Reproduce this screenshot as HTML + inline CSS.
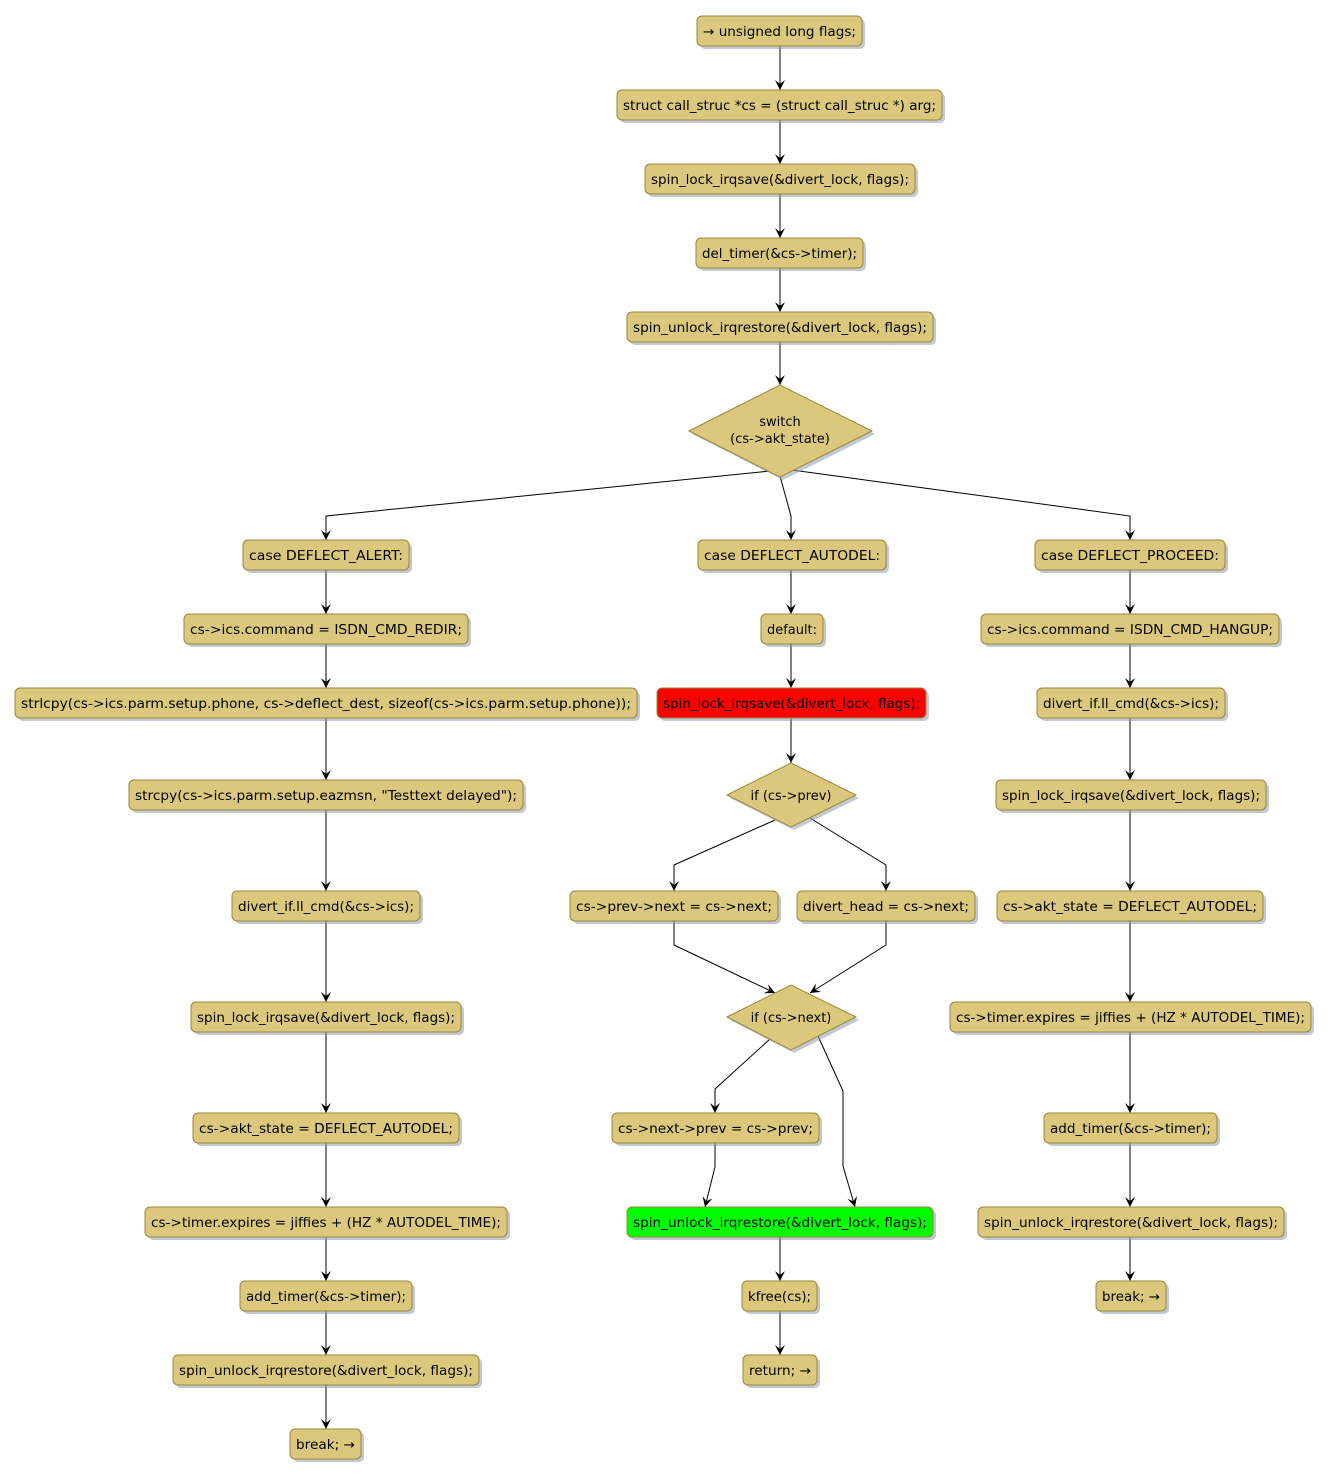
<!DOCTYPE html>
<html><head><meta charset="utf-8"><style>
html,body{margin:0;padding:0;background:#fff}
svg{display:block}
text{font-family:"DejaVu Sans","Liberation Sans",sans-serif;font-size:13px;fill:#000}
.b{fill:#DBC87D;stroke:#9A8638;stroke-width:1}
.s{fill:#8f9cb0;opacity:.55}
.l{fill:none;stroke:#000;stroke-width:1}
</style></head><body>
<svg width="1330" height="1478" viewBox="0 0 1330 1478" xmlns="http://www.w3.org/2000/svg">
<defs>
<marker id="a" markerWidth="10" markerHeight="10" refX="10" refY="5" orient="auto" markerUnits="userSpaceOnUse">
<path d="M0,0 L10,5 L0,10 L4,5 z" fill="#000"/>
</marker>
</defs>

<!-- connectors -->
<g class="l" marker-end="url(#a)">
<path d="M780,46 V90"/>
<path d="M780,120 V164"/>
<path d="M780,194 V238"/>
<path d="M780,268 V312"/>
<path d="M780,342 V385"/>
<path d="M770,471 L326,516 V540"/>
<path d="M780,476 L791,516 V540"/>
<path d="M792,470 L1130,516 V540"/>
<!-- left -->
<path d="M326,570 V614"/>
<path d="M326,644 V688"/>
<path d="M326,718 V780"/>
<path d="M326,810 V891"/>
<path d="M326,921 V1002"/>
<path d="M326,1032 V1113"/>
<path d="M326,1143 V1207"/>
<path d="M326,1237 V1281"/>
<path d="M326,1311 V1355"/>
<path d="M326,1385 V1429"/>
<!-- middle -->
<path d="M791,570 V614"/>
<path d="M791,644 V688"/>
<path d="M791,718 V763"/>
<path d="M775,820 L674,865 V891"/>
<path d="M810,818 L886,865 V891"/>
<path d="M674,921 V945 L775,993"/>
<path d="M886,921 V945 L810,993"/>
<path d="M770,1039 L715,1089 V1113"/>
<path d="M818,1036 L843,1091 V1166 L855,1207"/>
<path d="M715,1143 V1167 L705,1207"/>
<path d="M780,1237 V1281"/>
<path d="M780,1311 V1355"/>
<!-- right -->
<path d="M1130,570 V614"/>
<path d="M1130,644 V688"/>
<path d="M1130,718 V780"/>
<path d="M1130,810 V891"/>
<path d="M1130,921 V1002"/>
<path d="M1130,1032 V1113"/>
<path d="M1130,1143 V1207"/>
<path d="M1130,1237 V1281"/>
</g>

<!-- shadows -->
<g class="s">
<rect x="700" y="19" width="165" height="30" rx="5"/>
<rect x="620" y="93" width="325" height="30" rx="5"/>
<rect x="648" y="167" width="270" height="30" rx="5"/>
<rect x="699" y="241" width="167" height="30" rx="5"/>
<rect x="630" y="315" width="306" height="30" rx="5"/>
<polygon points="692,434 783,388 875,434 783,480"/>
<rect x="246" y="543" width="166" height="30" rx="5"/>
<rect x="187" y="617" width="284" height="30" rx="5"/>
<rect x="18" y="691" width="622" height="30" rx="5"/>
<rect x="132" y="783" width="394" height="30" rx="5"/>
<rect x="235" y="894" width="188" height="30" rx="5"/>
<rect x="194" y="1005" width="270" height="30" rx="5"/>
<rect x="196" y="1116" width="266" height="30" rx="5"/>
<rect x="148" y="1210" width="362" height="30" rx="5"/>
<rect x="243" y="1284" width="172" height="30" rx="5"/>
<rect x="176" y="1358" width="306" height="30" rx="5"/>
<rect x="293" y="1432" width="71" height="30" rx="5"/>
<rect x="701" y="543" width="188" height="30" rx="5"/>
<rect x="764" y="617" width="62" height="30" rx="5"/>
<rect x="660" y="691" width="269" height="30" rx="5"/>
<polygon points="730,798 794,766 859,798 794,830"/>
<rect x="573" y="894" width="208" height="30" rx="5"/>
<rect x="800" y="894" width="178" height="30" rx="5"/>
<polygon points="730,1020 794,988 859,1020 794,1053"/>
<rect x="615" y="1116" width="207" height="30" rx="5"/>
<rect x="630" y="1210" width="306" height="30" rx="5"/>
<rect x="745" y="1284" width="75" height="30" rx="5"/>
<rect x="746" y="1358" width="74" height="30" rx="5"/>
<rect x="1038" y="543" width="190" height="30" rx="5"/>
<rect x="984" y="617" width="298" height="30" rx="5"/>
<rect x="1040" y="691" width="188" height="30" rx="5"/>
<rect x="999" y="783" width="270" height="30" rx="5"/>
<rect x="1000" y="894" width="266" height="30" rx="5"/>
<rect x="953" y="1005" width="361" height="30" rx="5"/>
<rect x="1047" y="1116" width="173" height="30" rx="5"/>
<rect x="981" y="1210" width="306" height="30" rx="5"/>
<rect x="1099" y="1284" width="70" height="30" rx="5"/>
</g>

<!-- shapes -->
<g class="b">
<rect x="697" y="16" width="165" height="30" rx="5"/>
<rect x="617" y="90" width="325" height="30" rx="5"/>
<rect x="645" y="164" width="270" height="30" rx="5"/>
<rect x="696" y="238" width="167" height="30" rx="5"/>
<rect x="627" y="312" width="306" height="30" rx="5"/>
<polygon points="689,431 780,385 872,431 780,477"/>
<rect x="243" y="540" width="166" height="30" rx="5"/>
<rect x="184" y="614" width="284" height="30" rx="5"/>
<rect x="15" y="688" width="622" height="30" rx="5"/>
<rect x="129" y="780" width="394" height="30" rx="5"/>
<rect x="232" y="891" width="188" height="30" rx="5"/>
<rect x="191" y="1002" width="270" height="30" rx="5"/>
<rect x="193" y="1113" width="266" height="30" rx="5"/>
<rect x="145" y="1207" width="362" height="30" rx="5"/>
<rect x="240" y="1281" width="172" height="30" rx="5"/>
<rect x="173" y="1355" width="306" height="30" rx="5"/>
<rect x="290" y="1429" width="71" height="30" rx="5"/>
<rect x="698" y="540" width="188" height="30" rx="5"/>
<rect x="761" y="614" width="62" height="30" rx="5"/>
<rect x="657" y="688" width="269" height="30" rx="5" style="fill:#FF0000"/>
<polygon points="727,795 791,763 856,795 791,827"/>
<rect x="570" y="891" width="208" height="30" rx="5"/>
<rect x="797" y="891" width="178" height="30" rx="5"/>
<polygon points="727,1017 791,985 856,1017 791,1050"/>
<rect x="612" y="1113" width="207" height="30" rx="5"/>
<rect x="627" y="1207" width="306" height="30" rx="5" style="fill:#00FF00"/>
<rect x="742" y="1281" width="75" height="30" rx="5"/>
<rect x="743" y="1355" width="74" height="30" rx="5"/>
<rect x="1035" y="540" width="190" height="30" rx="5"/>
<rect x="981" y="614" width="298" height="30" rx="5"/>
<rect x="1037" y="688" width="188" height="30" rx="5"/>
<rect x="996" y="780" width="270" height="30" rx="5"/>
<rect x="997" y="891" width="266" height="30" rx="5"/>
<rect x="950" y="1002" width="361" height="30" rx="5"/>
<rect x="1044" y="1113" width="173" height="30" rx="5"/>
<rect x="978" y="1207" width="306" height="30" rx="5"/>
<rect x="1096" y="1281" width="70" height="30" rx="5"/>
</g>

<!-- labels -->
<g text-anchor="middle" lengthAdjust="spacingAndGlyphs">
<text x="779.5" y="36" textLength="153" lengthAdjust="spacingAndGlyphs">→ unsigned long flags;</text>
<text x="779.5" y="110" textLength="313" lengthAdjust="spacingAndGlyphs">struct call_struc *cs = (struct call_struc *) arg;</text>
<text x="780" y="184" textLength="258" lengthAdjust="spacingAndGlyphs">spin_lock_irqsave(&amp;divert_lock, flags);</text>
<text x="779.5" y="258" textLength="155" lengthAdjust="spacingAndGlyphs">del_timer(&amp;cs-&gt;timer);</text>
<text x="780" y="332" textLength="294" lengthAdjust="spacingAndGlyphs">spin_unlock_irqrestore(&amp;divert_lock, flags);</text>
<text x="780" y="426">switch</text>
<text x="780" y="443">(cs-&gt;akt_state)</text>

<text x="326" y="560" textLength="154" lengthAdjust="spacingAndGlyphs">case DEFLECT_ALERT:</text>
<text x="326" y="634" textLength="272" lengthAdjust="spacingAndGlyphs">cs-&gt;ics.command = ISDN_CMD_REDIR;</text>
<text x="326" y="708" textLength="610" lengthAdjust="spacingAndGlyphs">strlcpy(cs-&gt;ics.parm.setup.phone, cs-&gt;deflect_dest, sizeof(cs-&gt;ics.parm.setup.phone));</text>
<text x="326" y="800" textLength="382" lengthAdjust="spacingAndGlyphs">strcpy(cs-&gt;ics.parm.setup.eazmsn, "Testtext delayed");</text>
<text x="326" y="911" textLength="176" lengthAdjust="spacingAndGlyphs">divert_if.ll_cmd(&amp;cs-&gt;ics);</text>
<text x="326" y="1022" textLength="258" lengthAdjust="spacingAndGlyphs">spin_lock_irqsave(&amp;divert_lock, flags);</text>
<text x="326" y="1133" textLength="254" lengthAdjust="spacingAndGlyphs">cs-&gt;akt_state = DEFLECT_AUTODEL;</text>
<text x="326" y="1227" textLength="350" lengthAdjust="spacingAndGlyphs">cs-&gt;timer.expires = jiffies + (HZ * AUTODEL_TIME);</text>
<text x="326" y="1301" textLength="160" lengthAdjust="spacingAndGlyphs">add_timer(&amp;cs-&gt;timer);</text>
<text x="326" y="1375" textLength="294" lengthAdjust="spacingAndGlyphs">spin_unlock_irqrestore(&amp;divert_lock, flags);</text>
<text x="325.5" y="1449" textLength="59" lengthAdjust="spacingAndGlyphs">break; →</text>

<text x="792" y="560" textLength="176" lengthAdjust="spacingAndGlyphs">case DEFLECT_AUTODEL:</text>
<text x="792" y="634" textLength="50" lengthAdjust="spacingAndGlyphs">default:</text>
<text x="791.5" y="708" textLength="257" lengthAdjust="spacingAndGlyphs">spin_lock_irqsave(&amp;divert_lock, flags);</text>
<text x="791" y="800">if (cs-&gt;prev)</text>
<text x="674" y="911" textLength="196" lengthAdjust="spacingAndGlyphs">cs-&gt;prev-&gt;next = cs-&gt;next;</text>
<text x="886" y="911" textLength="166" lengthAdjust="spacingAndGlyphs">divert_head = cs-&gt;next;</text>
<text x="791" y="1022">if (cs-&gt;next)</text>
<text x="715.5" y="1133" textLength="195" lengthAdjust="spacingAndGlyphs">cs-&gt;next-&gt;prev = cs-&gt;prev;</text>
<text x="780" y="1227" textLength="294" lengthAdjust="spacingAndGlyphs">spin_unlock_irqrestore(&amp;divert_lock, flags);</text>
<text x="779.5" y="1301" textLength="63" lengthAdjust="spacingAndGlyphs">kfree(cs);</text>
<text x="780" y="1375" textLength="62" lengthAdjust="spacingAndGlyphs">return; →</text>

<text x="1130" y="560" textLength="178" lengthAdjust="spacingAndGlyphs">case DEFLECT_PROCEED:</text>
<text x="1130" y="634" textLength="286" lengthAdjust="spacingAndGlyphs">cs-&gt;ics.command = ISDN_CMD_HANGUP;</text>
<text x="1131" y="708" textLength="176" lengthAdjust="spacingAndGlyphs">divert_if.ll_cmd(&amp;cs-&gt;ics);</text>
<text x="1131" y="800" textLength="258" lengthAdjust="spacingAndGlyphs">spin_lock_irqsave(&amp;divert_lock, flags);</text>
<text x="1130" y="911" textLength="254" lengthAdjust="spacingAndGlyphs">cs-&gt;akt_state = DEFLECT_AUTODEL;</text>
<text x="1130.5" y="1022" textLength="349" lengthAdjust="spacingAndGlyphs">cs-&gt;timer.expires = jiffies + (HZ * AUTODEL_TIME);</text>
<text x="1130.5" y="1133" textLength="161" lengthAdjust="spacingAndGlyphs">add_timer(&amp;cs-&gt;timer);</text>
<text x="1131" y="1227" textLength="294" lengthAdjust="spacingAndGlyphs">spin_unlock_irqrestore(&amp;divert_lock, flags);</text>
<text x="1131" y="1301" textLength="58" lengthAdjust="spacingAndGlyphs">break; →</text>
</g>
</svg>
</body></html>
